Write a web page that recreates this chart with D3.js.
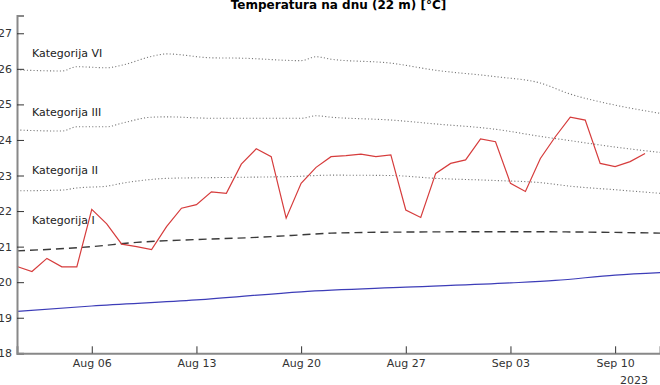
<!DOCTYPE html>
<html>
<head>
<meta charset="utf-8">
<script src="https://cdn.jsdelivr.net/npm/d3@7"></script>
<style>
  body { margin: 0; background: #fff; }
  svg { display: block; font-family: "DejaVu Sans", sans-serif; }
</style>
</head>
<body>
<div id="chart"></div>
<script>
// Measured daily bottom temperature (red)
const measStart = '2023-08-01';
const measValues = [
    20.44, 20.30, 20.67, 20.43, 20.43, 22.05, 21.64, 21.07, 21.00, 20.92,
    21.56, 22.08, 22.18, 22.54, 22.50, 23.32, 23.75, 23.53, 21.80, 22.78,
    23.23, 23.53, 23.56, 23.60, 23.53, 23.58, 22.03, 21.82, 23.06, 23.34,
    23.44, 24.03, 23.95, 22.78, 22.55, 23.48, 24.09, 24.64, 24.56, 23.34,
    23.25, 23.39, 23.62
];

// Climatology (blue) and threshold (dashed)
const climDates = ['2023-08-01', '2023-08-06', '2023-08-13', '2023-08-20', '2023-08-27', '2023-09-03', '2023-09-06', '2023-09-10', '2023-09-13'];
const climValues = [19.18, 19.33, 19.50, 19.73, 19.86, 19.98, 20.05, 20.20, 20.27];

const threshDates = ['2023-08-01', '2023-08-06', '2023-08-09', '2023-08-13', '2023-08-17', '2023-08-20', '2023-08-22', '2023-08-27', '2023-09-03', '2023-09-10', '2023-09-13'];
const threshValues = [20.88, 21.00, 21.12, 21.20, 21.26, 21.33, 21.38, 21.41, 21.42, 21.40, 21.38];

// Category lines (dotted)
const catDates = ['2023-08-01', '2023-08-04', '2023-08-05', '2023-08-07', '2023-08-08', '2023-08-10', '2023-08-11', '2023-08-14', '2023-08-16', '2023-08-20', '2023-08-21', '2023-08-22', '2023-08-26', '2023-08-29', '2023-09-02', '2023-09-05', '2023-09-07', '2023-09-10', '2023-09-13'];
const catII = [22.57, 22.59, 22.65, 22.70, 22.78, 22.89, 22.92, 22.94, 22.95, 22.98, 23.00, 23.01, 23.00, 22.92, 22.86, 22.80, 22.70, 22.60, 22.50];
const catIII = [24.28, 24.25, 24.37, 24.37, 24.47, 24.64, 24.65, 24.61, 24.61, 24.61, 24.68, 24.64, 24.56, 24.45, 24.30, 24.10, 23.98, 23.80, 23.65];
const catVI = [25.97, 25.94, 26.06, 26.03, 26.10, 26.35, 26.42, 26.31, 26.30, 26.23, 26.34, 26.27, 26.16, 25.96, 25.78, 25.60, 25.29, 24.98, 24.75];

const catLabels = ['Kategorija VI', 'Kategorija III', 'Kategorija II', 'Kategorija I'];
const catLabelValues = [26.45, 24.77, 23.15, 21.75];

const yTicks = [18, 19, 20, 21, 22, 23, 24, 25, 26, 27];
const xTickDates = ['2023-08-06', '2023-08-13', '2023-08-20', '2023-08-27', '2023-09-03', '2023-09-10'];

const width = 660, height = 385;
const margin = { top: 15.5, right: 0, bottom: 31.7, left: 17 };
const parse = d3.utcParse('%Y-%m-%d');

const svg = d3.select('#chart')
    .append('svg')
    .attr('width', width)
    .attr('height', height);

const x = d3.scaleUtc()
    .domain([parse('2023-08-01'), parse('2023-09-13')])
    .range([margin.left, width - margin.right]);

const y = d3.scaleLinear()
    .domain([18, 27.5])
    .range([height - margin.bottom, margin.top]);

const pts = (dates, vals) => dates.map((d, i) => [parse(d), vals[i]]);
const line = d3.line().x(d => x(d[0])).y(d => y(d[1]));
const smooth = d3.line().x(d => x(d[0])).y(d => y(d[1])).curve(d3.curveMonotoneX);

const plot = svg.append('g');

// Dotted category lines
[catII, catIII, catVI].forEach(vals => {
    plot.append('path')
        .datum(pts(catDates, vals))
        .attr('d', smooth)
        .attr('fill', 'none')
        .attr('stroke', '#777')
        .attr('stroke-width', 1.1)
        .attr('stroke-dasharray', '1.1,2.2');
});

// Dashed threshold
plot.append('path')
    .datum(pts(threshDates, threshValues))
    .attr('d', smooth)
    .attr('fill', 'none')
    .attr('stroke', '#3a3a3a')
    .attr('stroke-width', 1.4)
    .attr('stroke-dasharray', '8,5');

// Climatology
plot.append('path')
    .datum(pts(climDates, climValues))
    .attr('d', smooth)
    .attr('fill', 'none')
    .attr('stroke', '#3d3db8')
    .attr('stroke-width', 1.2);

// Measurements
const t0 = parse(measStart);
plot.append('path')
    .datum(measValues.map((v, i) => [d3.utcDay.offset(t0, i), v]))
    .attr('d', line)
    .attr('fill', 'none')
    .attr('stroke', '#d63c3c')
    .attr('stroke-width', 1.2);

// Category labels
plot.selectAll('.cat-label')
    .data(catLabels)
    .join('text')
    .attr('class', 'cat-label')
    .attr('x', 32)
    .attr('y', (d, i) => y(catLabelValues[i]))
    .attr('dy', '0.35em')
    .attr('font-size', '11px')
    .attr('fill', '#222')
    .text(d => d);

// Axes
const yAxis = svg.append('g')
    .attr('transform', `translate(${margin.left},0)`)
    .call(d3.axisLeft(y).tickValues(yTicks).tickSize(-7).tickPadding(5).tickFormat(d3.format('d')));

const xAxis = svg.append('g')
    .attr('transform', `translate(0,${height - margin.bottom})`)
    .call(d3.axisBottom(x).tickValues(xTickDates.map(parse)).tickSize(-7).tickPadding(6)
        .tickFormat(d3.utcFormat('%b %d')));

[yAxis, xAxis].forEach(ax => {
    ax.select('.domain').attr('stroke', '#888').attr('stroke-width', 2);
    ax.selectAll('.tick line').attr('stroke', '#333').attr('stroke-width', 1);
    ax.selectAll('.tick text')
        .attr('fill', '#333')
        .attr('font-size', '11px')
        .attr('font-family', '"DejaVu Sans", sans-serif');
});
xAxis.selectAll('.tick text').attr('dy', '0.71em').attr('y', 6);

svg.append('text')
    .attr('x', 648)
    .attr('y', 380)
    .attr('dy', '0.35em')
    .attr('text-anchor', 'end')
    .attr('font-size', '11px')
    .attr('fill', '#333')
    .text('2023');

// Title
svg.append('text')
    .attr('x', 338.5)
    .attr('y', 5)
    .attr('dy', '0.35em')
    .attr('text-anchor', 'middle')
    .attr('font-size', '12px')
    .attr('font-weight', 'bold')
    .attr('fill', '#000')
    .text('Temperatura na dnu (22 m) [°C]');
</script>
</body>
</html>
